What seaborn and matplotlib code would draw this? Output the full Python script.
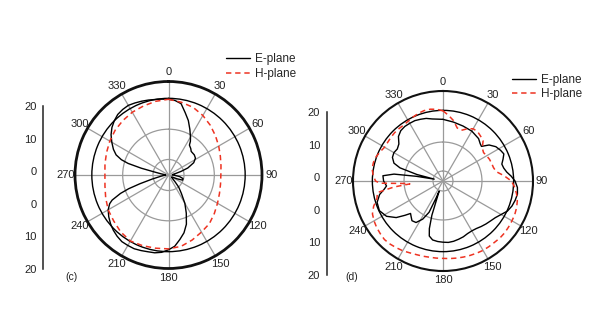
import numpy as np
import pandas as pd
import matplotlib
matplotlib.use("Agg")
import matplotlib.pyplot as plt
import seaborn as sns
from matplotlib.lines import Line2D

sns.set_style("white")
plt.rcParams["font.family"] = ["Liberation Sans", "DejaVu Sans"]

# ---------------- data ----------------
angle_ticks = [0, 30, 60, 90, 120, 150, 180, 210, 240, 270, 300, 330]
scale_labels = ["20", "10", "0", "0", "10", "20"]
series_names = ["E-plane", "H-plane"]
panel_tags = ["(c)", "(d)"]

# panel (c) E-plane (normalised radius)
ec_deg = [0, 5, 10, 15, 20, 25, 30, 33, 35, 40,
          44, 52, 58, 64, 70, 74, 78, 82, 87, 92,
          98, 104, 110, 114, 118, 125, 132, 136, 140, 145,
          150, 155, 160, 165, 170, 175, 180, 185, 190, 195,
          200, 205, 210, 215, 220, 225, 230, 235, 240, 244,
          246, 249, 251, 253, 256, 260, 265, 270, 275, 279,
          282, 284, 286, 288, 291, 295, 300, 305, 310, 315,
          320, 325, 330, 335, 340, 345, 350, 355]
ec_r = [.81, .80, .775, .69, .62, .54, .47, .43, .39, .37,
        .35, .35, .34, .30, .22, .14, .08, .05, .04, .06,
        .12, .16, .16, .10, .05, .04, .06, .10, .17, .24,
        .35, .45, .56, .64, .70, .765, .80, .83, .845, .85,
        .86, .87, .87, .87, .855, .835, .81, .78, .745, .70,
        .66, .55, .45, .32, .18, .09, .05, .03, .04, .08,
        .15, .30, .45, .53, .60, .65, .70, .75, .79, .82,
        .845, .855, .86, .85, .84, .83, .82, .815]

# panel (c) H-plane
hc_deg = [0, 10, 20, 30, 40, 50, 60, 70, 80, 90, 100, 110,
          120, 130, 140, 150, 160, 170, 180, 190, 200, 210, 220, 230,
          240, 250, 260, 270, 280, 290, 300, 310, 320, 330, 340, 350]
hc_r = [.81, .79, .77, .735, .695, .655, .62, .59, .57, .56, .565, .58,
        .605, .64, .68, .705, .74, .775, .79, .795, .805, .815, .795, .765,
        .745, .715, .69, .68, .69, .705, .725, .745, .76, .775, .785, .80]

# panel (d) E-plane
ed_deg = [0, 10, 20, 30, 40,
          45, 48, 52, 57, 62, 66, 70, 74, 78, 82, 86,
          90, 95, 100, 105, 110, 115, 120, 125, 130, 135, 140, 145, 150, 155,
          160, 165, 170, 175, 180, 185, 190,
          194, 196, 198, 200, 201, 202, 204, 208, 213, 218, 222, 225, 228, 232,
          238, 245, 252, 258, 262, 265,
          270, 275, 278, 280, 282, 284, 287, 290, 295,
          300, 305, 310, 315, 320, 325, 330, 335, 340, 345, 350, 355]
ed_r = [.685, .665, .65, .64, .615,
        .585, .575, .65, .70, .725, .74, .71, .68, .69, .715, .76,
        .80, .83, .84, .83, .815, .79, .745, .71, .69, .675, .66, .645, .64, .645,
        .66, .67, .68, .685, .68, .675, .665,
        .63, .55, .40, .15, .12, .20, .38, .48, .55, .56, .53, .51, .57, .66,
        .74, .78, .77, .72, .66, .63,
        .66, .67, .55, .30, .10, .30, .50, .58, .62,
        .63, .62, .64, .70, .73, .74, .74, .74, .73, .72, .70, .69]

# panel (d) H-plane
hd_deg = [0, 5, 10, 15, 20, 25, 30, 35, 40, 45, 50, 55, 60, 65, 70, 75, 80, 85,
          90, 95, 100, 105, 110, 115, 120, 125, 130, 135, 140, 145, 150, 155, 160,
          165, 170, 175, 180, 185, 190, 195, 200, 205, 210, 215, 220, 225, 230,
          235, 240, 245, 250, 255, 260,
          263, 265, 266, 268,
          270, 275, 280, 285, 290, 295, 300, 305, 310, 315, 320, 325, 330, 335,
          340, 345, 350, 355]
hd_r = [.78, .73, .68, .61, .60, .64, .67, .67, .65, .63, .57, .55, .56, .57, .575, .58, .60, .68,
        .76, .80, .83, .855, .87, .88, .885, .89, .895, .895, .89, .89, .89, .885, .88,
        .875, .87, .865, .86, .86, .86, .865, .87, .88, .895, .905, .915, .92, .91,
        .90, .885, .865, .82, .76, .74,
        .55, .37, .40, .70,
        .75, .78, .80, .80, .79, .77, .75, .75, .755, .76, .76, .76, .77, .785,
        .80, .81, .81, .80]

RED = "#ee3322"


def closed_frame(deg, r):
    d = list(deg) + [deg[0] + 360]
    rr = list(r) + [r[0]]
    return pd.DataFrame({"theta": np.deg2rad(d), "r": rr})


fig = plt.figure(figsize=(5.95, 3.35), dpi=100)
fig.patch.set_facecolor("white")


def polar_panel(rect, grid_r, spine_lw, e_deg, e_r, h_deg, h_r):
    ax = fig.add_axes(rect, projection="polar")
    sns.lineplot(data=closed_frame(e_deg, e_r), x="theta", y="r", sort=False,
                 estimator=None, ax=ax, color="black", lw=1.0, legend=False)
    sns.lineplot(data=closed_frame(h_deg, h_r), x="theta", y="r", sort=False,
                 estimator=None, ax=ax, color=RED, lw=1.1, legend=False)
    ax.lines[-1].set_dashes([3.5, 2.5])
    ax.set_theta_zero_location("N")
    ax.set_theta_direction(-1)
    ax.set_ylim(0, 1)
    ax.set_xlabel("")
    ax.set_ylabel("")
    ax.set_xticks(np.deg2rad(angle_ticks))
    ax.set_xticklabels([])
    ax.set_yticks(grid_r)
    ax.set_yticklabels([])
    ax.set_axisbelow(True)
    ax.grid(True, color="#9a9a9a", lw=0.9)
    gl = ax.yaxis.get_gridlines()
    gl[-1].set_color("black")
    gl[-1].set_linewidth(1.0)
    ax.spines["polar"].set_linewidth(spine_lw)
    ax.spines["polar"].set_color("#111111")
    for a in angle_ticks:
        ax.text(np.deg2rad(a), 1.1, str(a), ha="center", va="center",
                fontsize=8, color="#222222", clip_on=False)
    return ax


def scale_axis(rect):
    sa = fig.add_axes(rect)
    sa.set_facecolor("none")
    for s in ["top", "right", "bottom"]:
        sa.spines[s].set_visible(False)
    sa.spines["left"].set_linewidth(1.1)
    sa.spines["left"].set_color("#222222")
    sa.set_xticks([])
    sa.set_ylim(0, 5)
    sa.set_yticks(range(6))
    sa.set_yticklabels(scale_labels[::-1])
    sa.tick_params(axis="y", direction="out", length=3, width=1.0,
                   labelsize=8, pad=2, colors="#222222")
    return sa


# panel (c)
axc = polar_panel([75 / 595, 66.5 / 335, 187 / 595, 187 / 335],
                  [0.166, 0.49, 0.82], 2.0, ec_deg, ec_r, hc_deg, hc_r)
scale_axis([43.3 / 595, 66 / 335, 0.0005, 163 / 335])

# panel (d)
axd = polar_panel([353 / 595, 64 / 335, 180 / 595, 180 / 335],
                  [0.111, 0.433, 0.785], 1.5, ed_deg, ed_r, hd_deg, hd_r)
scale_axis([327 / 595, 60 / 335, 0.0005, 163 / 335])

handles = [Line2D([], [], color="black", lw=1.0),
           Line2D([], [], color=RED, lw=1.1, dashes=[3.5, 2.5])]
for (x0, y0, lsp) in [(226, 53, 0.25), (512, 74.5, 0.1)]:
    fig.legend(handles, series_names, loc="upper left",
               bbox_to_anchor=(x0 / 595, 1 - y0 / 335), frameon=False,
               fontsize=8.5, handlelength=2.0, handletextpad=0.45,
               borderpad=0, borderaxespad=0, labelspacing=lsp)

fig.text(72 / 595, 1 - 277 / 335, panel_tags[0], fontsize=7.5, ha="center",
         va="center", color="#222222")
fig.text(352 / 595, 1 - 277 / 335, panel_tags[1], fontsize=7.5, ha="center",
         va="center", color="#222222")

fig.savefig("out.png", dpi=100, facecolor="white")
